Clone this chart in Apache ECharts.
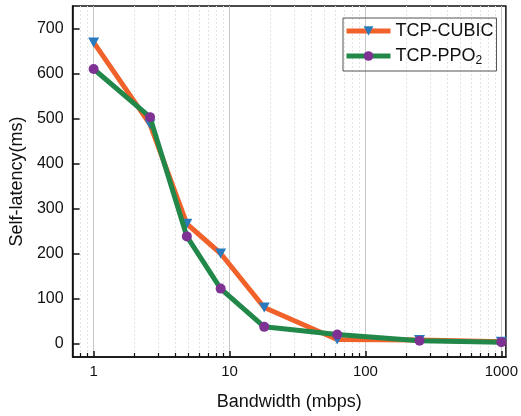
<!DOCTYPE html>
<html>
<head>
<meta charset="utf-8">
<script src="https://cdn.jsdelivr.net/npm/echarts@6/dist/echarts.min.js"></script>
<style>html,body{margin:0;padding:0;background:#fff}#c{width:521px;height:416px}</style>
</head>
<body>
<div id="c"></div>
<script>
// Data
const bandwidth = [1, 2.6, 4.85, 8.6, 18, 62, 250, 1000];
const cubicLatency = [669, 487, 266, 200, 80, 9, 8, 4];
const ppoLatency = [610, 503, 238, 122, 37, 20, 6, 3];
const xMajorTicks = [1, 10, 100, 1000];
const xMinorTicks = [0.8, 0.9, 2, 3, 4, 5, 6, 7, 8, 9, 20, 30, 40, 50, 60, 70, 80, 90, 200, 300, 400, 500, 600, 700, 800, 900];
const yTicks = [0, 100, 200, 300, 400, 500, 600, 700];

const font = "'Liberation Sans', Arial, sans-serif";
const pairs = (xs, ys) => xs.map((x, i) => [x, ys[i]]);

const chart = echarts.init(document.getElementById('c'), null, {renderer: 'canvas'});
chart.setOption({
  animation: false,
  backgroundColor: '#fff',
  grid: {left: 70.5, top: 6, right: 11, bottom: 55, show: true, borderColor: '#111', borderWidth: 1.5, backgroundColor: 'transparent'},
  legend: {
    left: 343, top: 18,
    orient: 'vertical',
    borderColor: '#555', borderWidth: 1, borderRadius: 0,
    padding: [4, 3, 4, 1],
    itemWidth: 44, itemHeight: 12, itemGap: 7,
    lineStyle: {width: 5},
    textStyle: {fontFamily: font, fontSize: 18, color: '#111',
      rich: {
        a: {fontFamily: font, fontSize: 18, color: '#111'},
        s: {fontFamily: font, fontSize: 12, color: '#111', padding: [10, 0, 0, 0]}
      }
    },
    formatter: function (name) {
      if (name === 'TCP-PPO2') return '{a|TCP-PPO}{s|2}';
      return '{a|' + name + '}';
    },
    data: ['TCP-CUBIC', 'TCP-PPO2']
  },
  xAxis: [
    {
      type: 'log', logBase: 10, min: 0.7, max: 1080,
      name: 'Bandwidth (mbps)', nameLocation: 'middle', nameGap: 36,
      nameTextStyle: {fontFamily: font, fontSize: 18, color: '#111'},
      axisLine: {show: true, onZero: false, lineStyle: {color: '#111', width: 1.5}},
      axisTick: {show: true, inside: true, length: 6, customValues: xMajorTicks, lineStyle: {color: '#111', width: 1.5}},
      axisLabel: {customValues: xMajorTicks, fontFamily: font, fontSize: 15, color: '#111', margin: 7,
        formatter: v => String(Math.round(v))},
      splitLine: {show: true, lineStyle: {color: '#c8c8c8', width: 1}},
      minorTick: {show: false}
    },
    {
      type: 'log', logBase: 10, min: 0.7, max: 1080, position: 'bottom',
      axisLine: {show: false, onZero: false},
      axisTick: {show: true, inside: true, length: 4, customValues: xMinorTicks, lineStyle: {color: '#111', width: 1.2}},
      axisLabel: {show: false},
      splitLine: {show: true, lineStyle: {color: '#e4e4e4', width: 1, type: [2, 2]}}
    }
  ],
  yAxis: {
    type: 'value', min: -30, max: 750,
    name: 'Self-latency(ms)', nameLocation: 'middle', nameGap: 39,
    nameTextStyle: {fontFamily: font, fontSize: 18, color: '#111'},
    axisLine: {show: true, onZero: false, lineStyle: {color: '#111', width: 1.5}},
    axisTick: {show: true, inside: true, length: 7, customValues: yTicks, lineStyle: {color: '#111', width: 1.5}},
    axisLabel: {customValues: yTicks, fontFamily: font, fontSize: 16, color: '#111', margin: 9},
    splitLine: {show: false}
  },
  series: [
    {
      name: 'TCP-CUBIC', type: 'line', xAxisIndex: 0,
      data: pairs(bandwidth, cubicLatency),
      symbol: 'path://M0,0 L10,0 L5,8.66 Z', symbolSize: [11, 10],
      lineStyle: {color: '#f0622a', width: 5},
      itemStyle: {color: '#2a7bbd'},
      z: 2
    },
    {
      name: 'TCP-PPO2', type: 'line', xAxisIndex: 0,
      data: pairs(bandwidth, ppoLatency),
      symbol: 'circle', symbolSize: 10,
      lineStyle: {color: '#22884a', width: 5},
      itemStyle: {color: '#7e3294'},
      z: 3
    }
  ]
});
</script>
</body>
</html>
